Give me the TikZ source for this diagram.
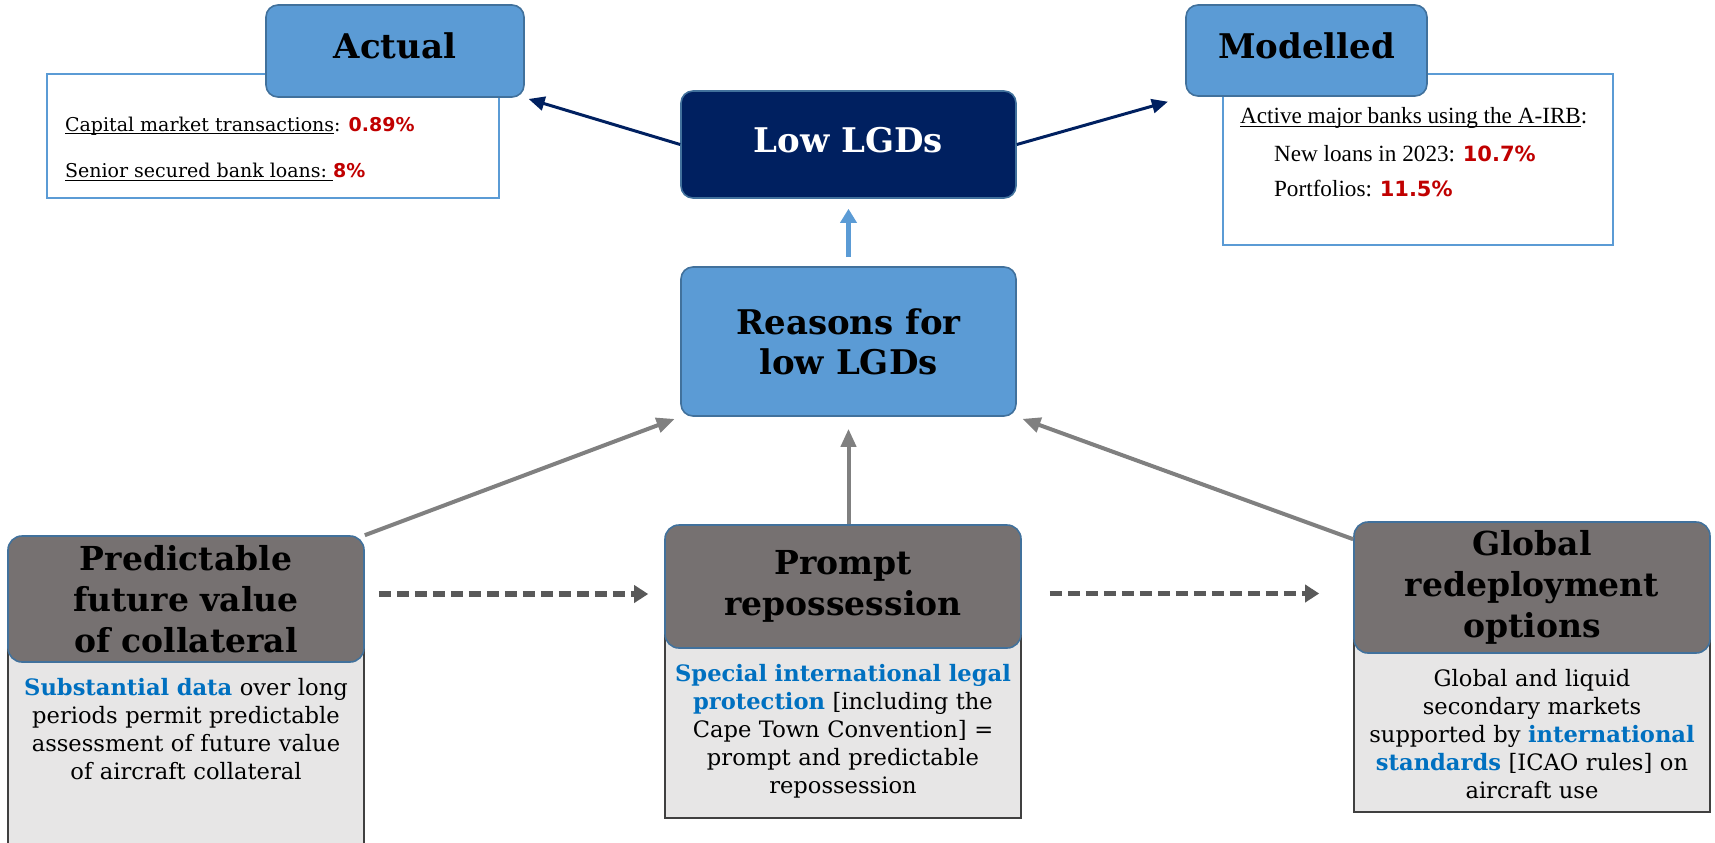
\documentclass[tikz,border=0pt]{standalone}
\usepackage{fontspec}
\setmainfont{DejaVu Serif}
\newfontfamily\timesfont{Liberation Serif}
\newfontfamily\numfont{DejaVu Sans}
\usetikzlibrary{arrows.meta,positioning,calc}

\definecolor{midblue}{HTML}{5B9BD5}
\definecolor{edgeblue}{HTML}{41719C}
\definecolor{navyfill}{HTML}{002060}
\definecolor{headgray}{HTML}{767171}
\definecolor{bodygray}{HTML}{E7E6E6}
\definecolor{pctred}{HTML}{C00000}
\definecolor{keyblue}{HTML}{0070C0}

\newcommand{\pct}[1]{{\numfont\bfseries\color{pctred}#1}}
\newcommand{\keyword}[1]{{\bfseries\color{keyblue}#1}}
\newsavebox{\ulnbox}
\newcommand{\uln}[1]{\sbox{\ulnbox}{#1}\rlap{\rule[-1.6pt]{\wd\ulnbox}{0.5pt}}\usebox{\ulnbox}}

\begin{document}
\begin{tikzpicture}[x=0.5pt,y=-0.5pt,
  topbox/.style={rounded corners=6pt,draw=edgeblue,line width=0.8pt,fill=midblue,
    font=\fontsize{17}{20}\selectfont\bfseries,align=center,text depth=5pt},
  lowbox/.style={topbox,fill=navyfill,text=white},
  infobox/.style={draw=midblue,line width=1.2pt},
  headbox/.style={rounded corners=7pt,draw=edgeblue,line width=0.8pt,fill=headgray,
    font=\fontsize{16.5}{20.5}\selectfont\bfseries,align=center,minimum width=178pt},
  bodybox/.style={draw=black!75,line width=0.7pt,fill=bodygray,minimum width=178pt},
  bodytext/.style={font=\fontsize{11.3}{14}\selectfont,align=center,text width=176pt},
  navyarrow/.style={draw=navyfill,line width=1.5pt,-{Triangle[length=8pt,width=7pt]}},
  grayarrow/.style={draw=black!50,line width=2pt,-{Triangle[length=9pt,width=7.5pt]}},
  dasharrow/.style={draw=black!65,line width=2.8pt,dash pattern=on 6pt off 3pt,-{Triangle[length=7pt,width=8.5pt]}},
  bluearrow/.style={draw=midblue,line width=2.5pt,-{Triangle[length=7pt,width=8pt]}}]

\useasboundingbox (0,0) rectangle (1715,842);

% top row
\node[infobox,minimum width=226pt,minimum height=62pt] (actualbox) at (273,136) {};
\node[infobox,minimum width=195pt,minimum height=85.5pt] (modelledbox) at (1418,159.5) {};
\node[topbox,minimum width=129pt,minimum height=46pt] (actual) at (395,51) {Actual};
\node[topbox,minimum width=120.5pt,minimum height=45.5pt] (modelled) at (1306.5,50.5) {Modelled};
\node[lowbox,minimum width=167.5pt,minimum height=53.5pt] (low) at (848.5,144.5) {Low LGDs};
\node[topbox,minimum width=167.5pt,minimum height=74.5pt,text depth=0pt] (reasons) at (848.5,341.5) {Reasons for\\low LGDs};

\begin{scope}[font=\fontsize{9.5}{11}\selectfont]
\node[anchor=west] (capline) at (58,126) {\uln{Capital market transactions}: \pct{0.89\%}};
\node[anchor=west] (senline) at (58,172) {\uln{Senior secured bank loans:\ }\pct{8\%}};
\end{scope}

\begin{scope}[font=\timesfont\fontsize{11.6}{13}\selectfont]
\node[anchor=west] (bankline) at (1233,118) {\uln{Active major banks using the A-IRB}:};
\node[anchor=west] (newline) at (1267,154) {New loans in 2023: {\fontsize{10.5}{13}\selectfont\pct{10.7\%}}};
\node[anchor=west] (portline) at (1267,188) {Portfolios: {\fontsize{10.5}{13}\selectfont\pct{11.5\%}}};
\end{scope}

% bottom row
\node[bodybox,minimum height=124.5pt] (pfvbody) at (186,723.5) {};
\node[bodybox,minimum height=116pt] (promptbody) at (843,702) {};
\node[bodybox,minimum height=112.5pt] (globalbody) at (1532,699.5) {};

\node[headbox,minimum height=63pt] (pfv) at (186,599) {Predictable\\future value\\of collateral};
\node[headbox,minimum height=61.5pt] (prompt) at (843,586.5) {Prompt\\repossession};
\node[headbox,minimum height=65.5pt] (global) at (1532,587.5) {Global\\redeployment\\options};

\node[bodytext,below=4pt of pfv] (pfvtext)
  {\keyword{Substantial data} over long\\periods permit predictable\\assessment of future value\\of aircraft collateral};
\node[bodytext,below=4pt of prompt] (prompttext)
  {\keyword{Special international legal}\\\keyword{protection} [including the\\Cape Town Convention] =\\prompt and predictable\\repossession};
\node[bodytext,below=4pt of global] (globaltext)
  {Global and liquid\\secondary markets\\supported by \keyword{international}\\\keyword{standards} [ICAO rules] on\\aircraft use};

% connectors
\draw[navyarrow,shorten >=2pt] (low.west) -- (actual.south east);
\draw[navyarrow,shorten >=9pt] (low.east) -- (modelled.south west);
\draw[bluearrow,shorten <=4.5pt,shorten >=5pt] (reasons.north) -- (low.south);
\draw[grayarrow,shorten >=3pt] (pfv.north east) -- (reasons.south west);
\draw[grayarrow,shorten >=6pt] (prompt.north -| reasons.south) -- (reasons.south);
\draw[grayarrow,shorten >=3pt] ($(global.north west)+(0,18)$) -- (reasons.south east);
\draw[dasharrow,shorten <=7pt,shorten >=8pt] ($(pfv.east)+(0,-5)$) -- ($(pfv.east -| prompt.west)+(0,-5)$);
\draw[dasharrow,shorten <=14pt,shorten >=17pt] ($(prompt.east)+(0,7)$) -- ($(prompt.east -| global.west)+(0,7)$);

\end{tikzpicture}
\end{document}
